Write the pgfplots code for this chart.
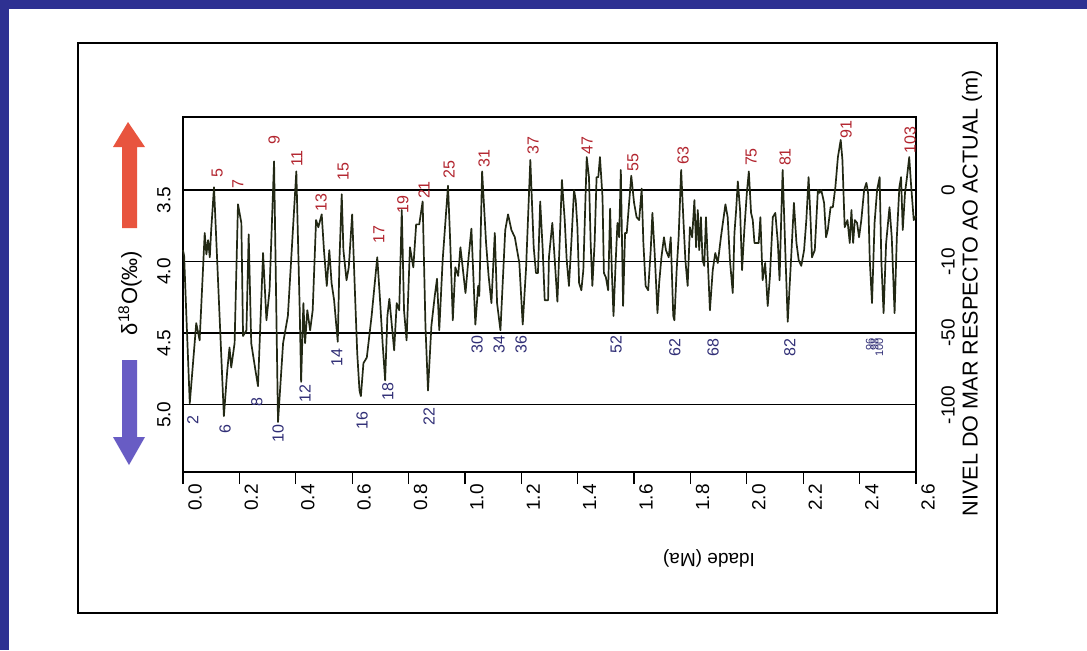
\documentclass[border=0pt]{standalone}
\usepackage{pgfplots}
\pgfplotsset{compat=1.18}
\usepackage{fontspec}
\setmainfont{Liberation Sans}
\definecolor{slideblue}{RGB}{46,49,146}
\definecolor{curve}{RGB}{34,40,20}
\definecolor{redlab}{RGB}{178,36,46}
\definecolor{bluelab}{RGB}{48,46,118}
\definecolor{arrred}{RGB}{232,84,62}
\definecolor{arrblue}{RGB}{104,92,196}
\begin{document}
\begin{tikzpicture}[
  rl/.style={rotate=90, text=redlab, font=\fontsize{8}{9}\selectfont, inner sep=0pt},
  bl/.style={rotate=90, text=bluelab, font=\fontsize{8}{9}\selectfont, inner sep=0pt}]
\begin{scope}[x=0.5pt,y=-0.5pt]
\useasboundingbox (0,0) rectangle (1087,650);
\fill[slideblue] (0,0) rectangle (1087,650);
\fill[white] (9,9) rectangle (1087,650);
\draw[line width=0.8pt] (78,43) rectangle (997,613);
% arrows
\fill[arrred] (113,147) -- (128,122) -- (145,147) -- (137,147) -- (137,228) -- (122,228) -- (122,147) -- cycle;
\fill[arrblue] (122,360) -- (137,360) -- (137,437) -- (145,437) -- (129,465) -- (113,437) -- (122,437) -- cycle;
\node[rotate=90, font=\fontsize{11}{12}\selectfont, inner sep=0pt] at (130,293) {δ\textsuperscript{18}O(‰)};
% right labels
\foreach \yy/\tt in {190/0, 262/-10, 333/-50, 405/-100}
  \node[rotate=90, font=\fontsize{9.5}{10}\selectfont, inner sep=0pt] at (948,\yy) {\tt};
\node[rotate=90, font=\fontsize{10.8}{12}\selectfont, inner sep=0pt] at (972,293) {NIVEL DO MAR RESPECTO AO ACTUAL (m)};
\node[rotate=180, font=\fontsize{9.5}{10}\selectfont, inner sep=0pt] at (709,558) {Idade (Ma)};
\end{scope}
\begin{axis}[at={(91.5pt,-236pt)}, anchor=south west, scale only axis,
  width=366.5pt, height=177.5pt,
  xmin=0, xmax=2.6, ymin=2.99, ymax=5.47, y dir=reverse,
  clip=false,
  axis line style={line width=0.7pt},
  xtick={0,0.2,0.4,0.6,0.8,1.0,1.2,1.4,1.6,1.8,2.0,2.2,2.4,2.6},
  xticklabels={0.0,0.2,0.4,0.6,0.8,1.0,1.2,1.4,1.6,1.8,2.0,2.2,2.4,2.6},
  xtick pos=bottom, tick align=outside, major tick length=6pt,
  xtick style={line width=0.6pt, black},
  xticklabel style={rotate=90, anchor=east, font=\fontsize{9.5}{10}\selectfont, inner sep=0pt, yshift=-6pt},
  ytick={3.5,4.0,4.5,5.0},
  yticklabels={3.5,4.0,4.5,5.0},
  ytick pos=left, ytick style={draw=none},
  yticklabel style={rotate=90, anchor=south, font=\fontsize{9.5}{10}\selectfont, inner sep=0pt, xshift=-5pt},
  ymajorgrids, grid style={black, line width=0.7pt},
]
\addplot[curve, line width=0.85pt, line join=round] coordinates {
(0.000,3.92) (0.004,3.96) (0.012,4.38) (0.024,4.99) (0.047,4.43) (0.059,4.55) (0.077,3.80) (0.083,3.95) (0.089,3.85) (0.095,3.97) (0.100,3.78) (0.110,3.48) (0.145,5.08) (0.157,4.76) (0.165,4.60) (0.171,4.74) (0.183,4.57) (0.195,3.60) (0.207,3.73) (0.213,4.52) (0.225,4.48) (0.233,3.81) (0.242,4.57) (0.257,4.76) (0.266,4.87) (0.284,3.94) (0.296,4.41) (0.307,4.20) (0.323,3.30) (0.337,5.12) (0.355,4.57) (0.372,4.38) (0.402,3.37) (0.414,4.34) (0.419,4.84) (0.427,4.29) (0.433,4.57) (0.441,4.34) (0.451,4.48) (0.460,4.34) (0.472,3.71) (0.480,3.76) (0.492,3.67) (0.500,3.92) (0.510,4.17) (0.519,3.92) (0.527,4.15) (0.536,4.27) (0.543,4.43) (0.549,4.56) (0.555,3.99) (0.563,3.53) (0.569,3.92) (0.580,4.13) (0.588,4.04) (0.600,3.67) (0.610,4.22) (0.618,4.64) (0.626,4.90) (0.631,4.94) (0.640,4.71) (0.652,4.67) (0.669,4.38) (0.689,3.97) (0.698,4.24) (0.708,4.57) (0.717,4.83) (0.725,4.38) (0.732,4.26) (0.740,4.43) (0.749,4.62) (0.758,4.29) (0.767,4.34) (0.776,3.64) (0.784,4.34) (0.793,4.55) (0.805,3.90) (0.817,4.04) (0.827,3.74) (0.838,3.74) (0.850,3.58) (0.860,4.45) (0.869,4.90) (0.881,4.45) (0.893,4.24) (0.901,4.12) (0.909,4.48) (0.921,3.99) (0.940,3.47) (0.948,3.87) (0.957,4.41) (0.966,4.04) (0.976,4.10) (0.984,3.90) (0.992,4.04) (1.002,4.22) (1.013,3.97) (1.023,3.77) (1.037,4.44) (1.047,4.17) (1.051,4.24) (1.061,3.37) (1.075,3.87) (1.084,4.10) (1.094,4.29) (1.106,3.80) (1.114,4.29) (1.126,4.48) (1.134,4.15) (1.143,3.78) (1.153,3.67) (1.165,3.78) (1.177,3.83) (1.185,3.92) (1.193,4.01) (1.205,4.44) (1.217,4.04) (1.232,3.29) (1.244,3.90) (1.252,4.08) (1.259,4.08) (1.267,3.58) (1.276,3.92) (1.283,4.27) (1.295,4.27) (1.298,3.97) (1.310,3.73) (1.318,3.97) (1.328,4.28) (1.335,3.92) (1.344,3.43) (1.354,3.71) (1.361,3.99) (1.369,4.17) (1.378,3.85) (1.387,3.50) (1.393,3.57) (1.399,3.76) (1.405,4.15) (1.413,4.20) (1.420,4.06) (1.432,3.27) (1.440,3.41) (1.446,3.87) (1.452,4.17) (1.460,3.87) (1.467,3.41) (1.473,3.41) (1.479,3.27) (1.488,3.55) (1.493,4.08) (1.500,4.11) (1.508,4.20) (1.515,3.63) (1.521,4.06) (1.527,4.38) (1.535,3.99) (1.541,3.73) (1.547,3.83) (1.553,3.36) (1.561,4.31) (1.568,3.80) (1.574,3.80) (1.590,3.40) (1.600,3.59) (1.609,3.69) (1.618,3.71) (1.627,3.49) (1.633,3.87) (1.641,4.17) (1.650,4.20) (1.659,3.92) (1.665,3.66) (1.673,3.94) (1.683,4.36) (1.689,4.15) (1.697,3.97) (1.706,3.83) (1.713,3.92) (1.723,3.97) (1.730,3.83) (1.739,4.38) (1.743,4.41) (1.751,4.06) (1.758,3.83) (1.767,3.36) (1.775,3.71) (1.782,3.99) (1.790,4.17) (1.798,3.76) (1.806,3.83) (1.814,3.57) (1.820,3.90) (1.826,3.64) (1.831,3.92) (1.837,3.69) (1.843,3.99) (1.849,4.03) (1.855,3.69) (1.861,3.97) (1.869,4.34) (1.879,4.06) (1.888,3.94) (1.897,4.01) (1.908,3.83) (1.924,3.60) (1.932,3.69) (1.940,3.99) (1.950,4.22) (1.956,3.80) (1.962,3.64) (1.968,3.44) (1.976,3.64) (1.983,4.06) (1.991,3.78) (2.000,3.52) (2.007,3.37) (2.015,3.66) (2.021,3.71) (2.027,3.87) (2.035,3.87) (2.042,3.87) (2.048,3.69) (2.056,4.13) (2.065,4.01) (2.074,4.31) (2.082,4.10) (2.092,3.69) (2.101,3.66) (2.110,3.87) (2.116,4.13) (2.122,3.69) (2.127,3.36) (2.137,3.96) (2.145,4.42) (2.158,3.94) (2.167,3.59) (2.176,3.87) (2.184,3.99) (2.193,4.03) (2.203,3.92) (2.211,3.71) (2.219,3.41) (2.226,3.71) (2.231,3.97) (2.241,3.92) (2.252,3.50) (2.258,3.52) (2.264,3.50) (2.274,3.59) (2.281,3.83) (2.287,3.78) (2.297,3.62) (2.305,3.62) (2.314,3.48) (2.323,3.27) (2.333,3.15) (2.339,3.29) (2.347,3.76) (2.357,3.71) (2.365,3.87) (2.371,3.64) (2.377,3.87) (2.383,3.71) (2.391,3.73) (2.398,3.83) (2.406,3.71) (2.416,3.50) (2.424,3.45) (2.430,3.52) (2.436,3.99) (2.444,4.29) (2.453,3.73) (2.462,3.50) (2.471,3.41) (2.477,3.99) (2.485,4.36) (2.494,3.87) (2.506,3.62) (2.514,3.83) (2.524,4.36) (2.532,3.83) (2.541,3.48) (2.547,3.41) (2.553,3.78) (2.561,3.52) (2.568,3.41) (2.576,3.27) (2.582,3.45) (2.592,3.71) (2.600,3.68)
};
% warm stages (odd)
\node[rl] at (axis cs:0.121,3.38) {5};
\node[rl] at (axis cs:0.195,3.46) {7};
\node[rl] at (axis cs:0.323,3.15) {9};
\node[rl] at (axis cs:0.404,3.28) {11};
\node[rl] at (axis cs:0.490,3.59) {13};
\node[rl] at (axis cs:0.568,3.37) {15};
\node[rl] at (axis cs:0.695,3.81) {17};
\node[rl] at (axis cs:0.780,3.60) {19};
\node[rl] at (axis cs:0.855,3.50) {21};
\node[rl] at (axis cs:0.944,3.36) {25};
\node[rl] at (axis cs:1.068,3.28) {31};
\node[rl] at (axis cs:1.242,3.19) {37};
\node[rl] at (axis cs:1.433,3.19) {47};
\node[rl] at (axis cs:1.596,3.31) {55};
\node[rl] at (axis cs:1.774,3.26) {63};
\node[rl] at (axis cs:2.015,3.27) {75};
\node[rl] at (axis cs:2.136,3.27) {81};
\node[rl] at (axis cs:2.352,3.08) {91};
\node[rl] at (axis cs:2.579,3.15) {103};
% cold stages (even)
\node[bl] at (axis cs:0.035,5.11) {2};
\node[bl] at (axis cs:0.149,5.17) {6};
\node[bl] at (axis cs:0.262,4.98) {8};
\node[bl] at (axis cs:0.337,5.20) {10};
\node[bl] at (axis cs:0.433,4.92) {12};
\node[bl] at (axis cs:0.546,4.67) {14};
\node[bl] at (axis cs:0.635,5.11) {16};
\node[bl] at (axis cs:0.727,4.91) {18};
\node[bl] at (axis cs:0.873,5.08) {22};
\node[bl] at (axis cs:1.043,4.58) {30};
\node[bl] at (axis cs:1.121,4.58) {34};
\node[bl] at (axis cs:1.199,4.58) {36};
\node[bl] at (axis cs:1.536,4.58) {52};
\node[bl] at (axis cs:1.745,4.60) {62};
\node[bl] at (axis cs:1.880,4.60) {68};
\node[bl] at (axis cs:2.153,4.60) {82};
\node[bl, font=\fontsize{5.5}{6}\selectfont] at (axis cs:2.436,4.58) {96};
\node[bl, font=\fontsize{5.5}{6}\selectfont] at (axis cs:2.453,4.58) {98};
\node[bl, font=\fontsize{5.5}{6}\selectfont] at (axis cs:2.470,4.60) {100};
\end{axis}
\end{tikzpicture}
\end{document}
